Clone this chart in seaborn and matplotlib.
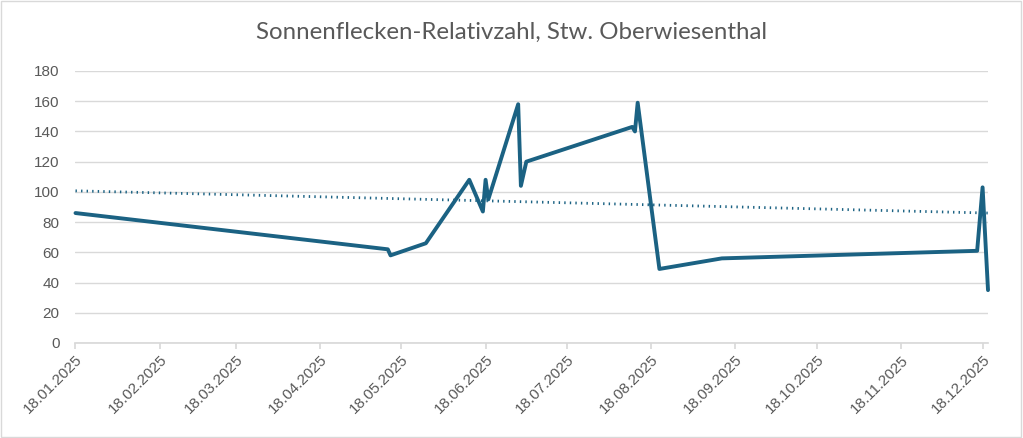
import pandas as pd
import matplotlib
matplotlib.use("Agg")
import matplotlib.pyplot as plt
import matplotlib.dates as mdates
import seaborn as sns

# Beobachtungstage und Relativzahlen
dates = ["2025-01-18", "2025-05-13", "2025-05-14", "2025-05-27", "2025-06-12",
         "2025-06-17", "2025-06-18", "2025-06-19", "2025-06-30", "2025-07-01",
         "2025-07-03", "2025-08-11", "2025-08-12", "2025-08-13", "2025-08-21",
         "2025-09-13", "2025-12-16", "2025-12-18", "2025-12-20"]
values = [86, 62, 58, 66, 108, 87, 108, 95, 158, 104,
          120, 143, 140, 159, 49, 56, 61, 103, 35]
# Trendlinie (linear), Anfangs- und Endwert
trend_dates = ["2025-01-18", "2025-12-20"]
trend_values = [100.7, 86.0]
tick_dates = ["2025-01-18", "2025-02-18", "2025-03-18", "2025-04-18", "2025-05-18",
              "2025-06-18", "2025-07-18", "2025-08-18", "2025-09-18", "2025-10-18",
              "2025-11-18", "2025-12-18"]
title = "Sonnenflecken-Relativzahl, Stw. Oberwiesenthal"

line_color = "#1b6283"
text_color = "#595959"
grid_color = "#d9d9d9"

df = pd.DataFrame({"datum": pd.to_datetime(dates), "wert": values})
trend = pd.DataFrame({"datum": pd.to_datetime(trend_dates), "wert": trend_values})

sns.set_theme(style="white")
plt.rcParams["font.family"] = ["Liberation Sans", "DejaVu Sans"]

fig = plt.figure(figsize=(10.23, 4.38), dpi=100)
ax = fig.add_axes([0.0738, 0.2169, 0.8920, 0.6210])

sns.lineplot(data=df, x="datum", y="wert", ax=ax, color=line_color,
             linewidth=2.8, zorder=3, clip_on=False,
             solid_joinstyle="round", solid_capstyle="round")
sns.lineplot(data=trend, x="datum", y="wert", ax=ax, color=line_color,
             linewidth=2.0, linestyle=(0, (0.5, 1.5)), zorder=2)

ax.set_xlim(df["datum"].min(), df["datum"].max())
ax.set_ylim(0, 180)
ax.set_yticks(range(0, 181, 20))
ax.set_xticks(pd.to_datetime(tick_dates))
ax.xaxis.set_major_formatter(mdates.DateFormatter("%d.%m.%Y"))
plt.setp(ax.get_xticklabels(), rotation=45, ha="right", rotation_mode="anchor")

ax.grid(axis="y", color=grid_color, linewidth=1)
ax.grid(axis="x", visible=False)
for s in ["top", "right", "left"]:
    ax.spines[s].set_visible(False)
ax.spines["bottom"].set_color(grid_color)
ax.tick_params(axis="x", colors=text_color, labelsize=11, length=4,
               color=grid_color, direction="out", bottom=True, pad=3)
ax.tick_params(axis="y", colors=text_color, labelsize=11, length=0, pad=11.5)
ax.set_xlabel("")
ax.set_ylabel("")

fig.text(0.5, 0.927, title, ha="center", va="center", fontsize=17.3,
         color=text_color, family=["Lato", "DejaVu Sans"])

# Rahmen des Diagrammbereichs
fig.patches.append(plt.Rectangle((0.001, 0.002), 0.997, 0.996, transform=fig.transFigure,
                                 fill=False, edgecolor=grid_color, linewidth=1))

fig.savefig("out.png", dpi=100)
